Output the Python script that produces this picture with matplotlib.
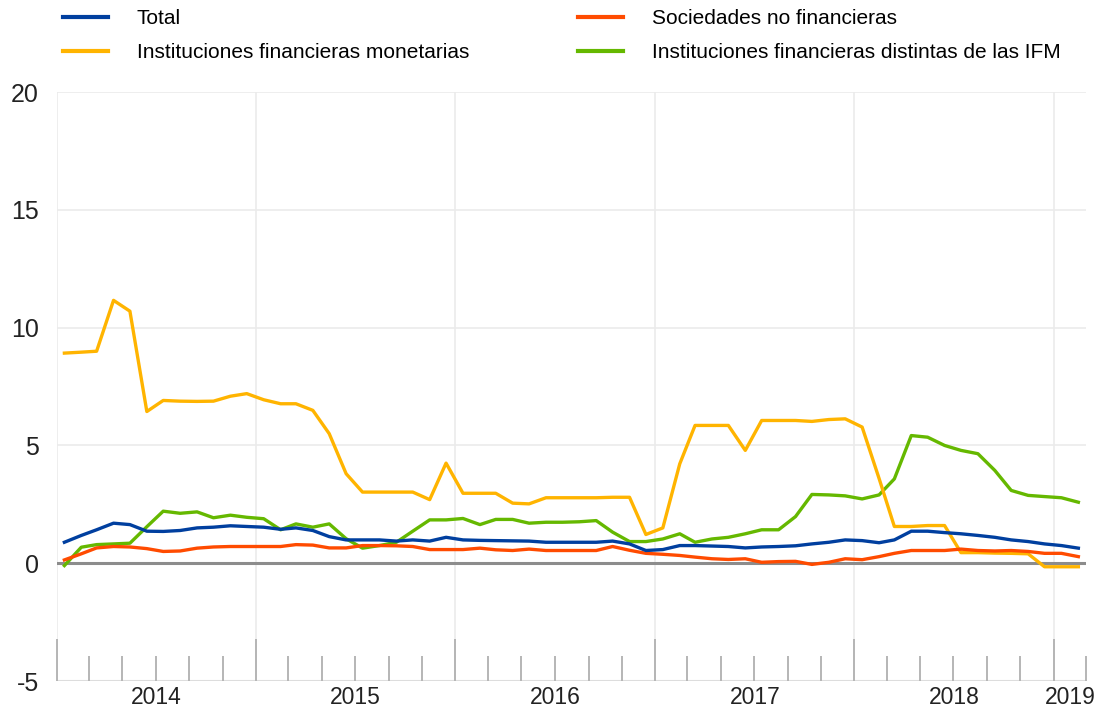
import numpy as np
import pandas as pd
import matplotlib
matplotlib.use("Agg")
import matplotlib.pyplot as plt
import matplotlib.dates as mdates
from matplotlib.lines import Line2D

plt.rcParams['font.family'] = ['Liberation Sans', 'DejaVu Sans']
plt.rcParams['axes.unicode_minus'] = False

# monthly observations, Jan 2014 - Feb 2019 (plotted mid-month)
months = pd.date_range('2014-01-01', periods=62, freq='MS') + pd.Timedelta(days=14)

total = [0.89, 1.18, 1.42, 1.70, 1.64, 1.36, 1.35, 1.39, 1.50, 1.53, 1.59, 1.56,
         1.53, 1.44, 1.50, 1.39, 1.13, 0.99, 0.99, 0.99, 0.94, 0.99, 0.94, 1.10,
         0.99, 0.97, 0.96, 0.95, 0.94, 0.89, 0.89, 0.89, 0.89, 0.94, 0.82, 0.54,
         0.58, 0.75, 0.75, 0.73, 0.71, 0.65, 0.69, 0.71, 0.74, 0.82, 0.89, 0.99,
         0.96, 0.87, 0.99, 1.36, 1.36, 1.30, 1.25, 1.18, 1.10, 0.99, 0.92, 0.82,
         0.75, 0.64]
snf = [0.14, 0.40, 0.65, 0.71, 0.69, 0.62, 0.50, 0.52, 0.64, 0.69, 0.71, 0.71,
       0.71, 0.71, 0.79, 0.77, 0.65, 0.65, 0.75, 0.75, 0.74, 0.71, 0.58, 0.58,
       0.58, 0.64, 0.57, 0.54, 0.60, 0.54, 0.54, 0.54, 0.54, 0.71, 0.55, 0.42,
       0.38, 0.33, 0.26, 0.19, 0.16, 0.19, 0.04, 0.07, 0.08, -0.05, 0.04, 0.19,
       0.15, 0.28, 0.42, 0.54, 0.54, 0.54, 0.60, 0.54, 0.52, 0.54, 0.50, 0.42,
       0.42, 0.28]
ifm = [8.92, 8.96, 9.00, 11.16, 10.70, 6.44, 6.91, 6.88, 6.87, 6.88, 7.09, 7.20,
       6.94, 6.77, 6.77, 6.49, 5.50, 3.80, 3.02, 3.02, 3.02, 3.02, 2.70, 4.25,
       2.97, 2.97, 2.97, 2.55, 2.52, 2.78, 2.78, 2.78, 2.78, 2.80, 2.80, 1.22,
       1.50, 4.22, 5.85, 5.85, 5.85, 4.79, 6.06, 6.06, 6.06, 6.02, 6.10, 6.13,
       5.78, 3.60, 1.56, 1.56, 1.60, 1.60, 0.45, 0.45, 0.43, 0.42, 0.40, -0.15,
       -0.15, -0.15]
oif = [-0.10, 0.68, 0.79, 0.82, 0.85, 1.55, 2.21, 2.12, 2.18, 1.93, 2.04, 1.95,
       1.89, 1.42, 1.67, 1.53, 1.67, 1.04, 0.64, 0.75, 0.89, 1.36, 1.84, 1.84,
       1.90, 1.64, 1.86, 1.86, 1.70, 1.74, 1.74, 1.76, 1.81, 1.32, 0.92, 0.92,
       1.03, 1.25, 0.89, 1.03, 1.10, 1.25, 1.42, 1.42, 1.98, 2.92, 2.90, 2.86,
       2.73, 2.90, 3.58, 5.42, 5.35, 5.00, 4.79, 4.65, 3.94, 3.09, 2.88, 2.83,
       2.78, 2.59]

labels = ['Total', 'Sociedades no financieras',
          'Instituciones financieras monetarias',
          'Instituciones financieras distintas de las IFM']
colors = ['#003f9f', '#ff4b00', '#ffb400', '#65b800']
years = [2014, 2015, 2016, 2017, 2018, 2019]

fig = plt.figure(figsize=(11.04, 7.14), dpi=100)
ax = fig.add_axes([0.0514, 0.0462, 0.9323, 0.8248])

x0 = pd.Timestamp('2014-01-01')
x1 = pd.Timestamp('2019-03-01')
ax.set_xlim(x0, x1)
ax.set_ylim(-5, 20)

# grid
for v in [5, 10, 15, 20]:
    ax.axhline(v, color='#ebebeb', lw=1.2, zorder=0)
ax.axhline(-5, color='#dddddd', lw=1.5, zorder=0)
for y in years:
    ax.axvline(pd.Timestamp(f'{y}-01-01'), color='#ebebeb', lw=1.2, zorder=0)
ax.axhline(0, color='#8c8c8c', lw=2.2, zorder=1)

# draw order: green, yellow, orange, blue on top
for series, c in [(oif, colors[3]), (ifm, colors[2]), (snf, colors[1]), (total, colors[0])]:
    ax.plot(months, series, color=c, lw=2.4, zorder=3, solid_joinstyle='round')

for s in ax.spines.values():
    s.set_visible(False)

ax.set_yticks([-5, 0, 5, 10, 15, 20])
ax.tick_params(axis='y', length=0, pad=13, labelsize=18, labelcolor='#222222')

ax.xaxis.set_major_locator(mdates.YearLocator())
ax.xaxis.set_minor_locator(mdates.MonthLocator(bymonth=[3, 5, 7, 9, 11]))
ax.xaxis.set_major_formatter(plt.NullFormatter())
ax.tick_params(axis='x', which='major', direction='in', length=30, width=1.4, color='#b5b5b5')
ax.tick_params(axis='x', which='minor', direction='in', length=18, width=1.4, color='#b5b5b5')

# year labels centred on the visible part of each year
for y in years:
    a = pd.Timestamp(f'{y}-01-01')
    b = min(pd.Timestamp(f'{y + 1}-01-01'), x1)
    mid = a + (b - a) / 2
    ax.text(mid, -0.008, str(y), transform=ax.get_xaxis_transform(),
            ha='center', va='top', fontsize=16.5, color='#222222')

# legend in two columns
handles = [Line2D([], [], color=c, lw=3) for c in colors]
kw = dict(frameon=False, fontsize=15, handlelength=2.15, handletextpad=1.4,
          labelspacing=0.72, borderpad=0, borderaxespad=0, loc='upper left')
fig.legend([handles[0], handles[2]], [labels[0], labels[2]],
           bbox_to_anchor=(63 / 1104, 1 - 9 / 714), **kw)
fig.legend([handles[1], handles[3]], [labels[1], labels[3]],
           bbox_to_anchor=(578 / 1104, 1 - 9 / 714), **kw)

fig.savefig('out.png', dpi=100)
